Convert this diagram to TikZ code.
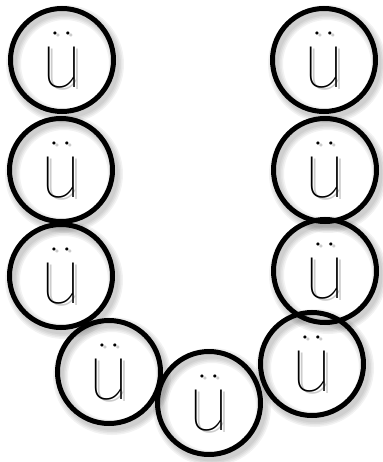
\documentclass[tikz,border=0pt]{standalone}
\usepackage{fontspec}
\newfontfamily\thinfont{Fira Sans Thin}
\usetikzlibrary{positioning,backgrounds}

\begin{document}
\begin{tikzpicture}[x=1pt, y=-1pt,
    ring/.style={circle, draw=black, line width=5pt, minimum size=103pt,
      inner sep=0pt, font=\thinfont\fontsize{78}{78}\selectfont},
    ringshade/.style={draw=black, opacity=0.05, line width=#1},
    lettershade/.style={text=black, opacity=0.2, inner sep=0pt,
      font=\thinfont\fontsize{78}{78}\selectfont}]
  \useasboundingbox (0,0) rectangle (382,462);
  % left column
  \node[ring] (c1) at (62, 60) {ü};
  \node[ring] (c2) at (61, 170) {ü};
  \node[ring] (c3) at (61, 276) {ü};
  % bottom
  \node[ring] (c4) at (109, 372) {ü};
  \node[ring] (c5) at (209, 403) {ü};
  \node[ring] (c6) at (312, 364) {ü};
  % right column
  \node[ring] (c7) at (325, 271) {ü};
  \node[ring] (c8) at (325, 170) {ü};
  \node[ring] (c9) at (324, 60) {ü};
  % soft shadows
  \begin{scope}[on background layer]
    \foreach \n in {c1,c2,c3,c4,c5,c6,c7,c8,c9} {
      \foreach \w in {6,9,12,15}
        \draw[ringshade=\w pt] ([shift={(3,4)}]\n.center) circle[radius=51.5pt];
      \node[lettershade] at ([shift={(2.5,2.5)}]\n.center) {ü};
    }
  \end{scope}
\end{tikzpicture}
\end{document}
